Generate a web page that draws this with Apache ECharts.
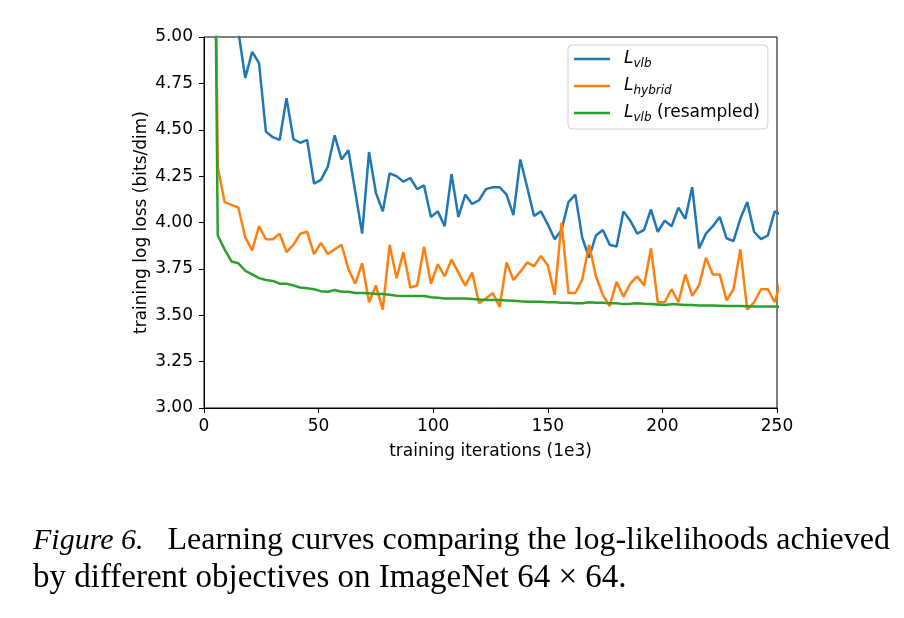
<!DOCTYPE html>
<html>
<head>
<meta charset="utf-8">
<script src="https://cdn.jsdelivr.net/npm/echarts@6/dist/echarts.min.js"></script>
<style>
html,body{margin:0;padding:0;background:#fff;}
#chart{width:904px;height:618px;}
</style>
</head>
<body>
<div id="chart"></div>
<script>
// training iterations (1e3)
const iterations = [3,6,9,12,15,18,21,24,27,30,33,36,39,42,45,48,51,54,57,60,63,66,69,72,75,78,81,84,87,90,93,96,99,102,105,108,111,114,117,120,123,126,129,132,135,138,141,144,147,150,153,156,159,162,165,168,171,174,177,180,183,186,189,192,195,198,201,204,207,210,213,216,219,222,225,228,231,234,237,240,243,246,249,252];

const lossVlb = [8.0,7.0,6.2,5.6,5.03,4.78,4.92,4.86,4.49,4.46,4.445,4.67,4.45,4.43,4.445,4.21,4.23,4.30,4.47,4.34,4.39,4.165,3.94,4.38,4.16,4.06,4.265,4.25,4.22,4.24,4.18,4.20,4.03,4.06,3.98,4.26,4.03,4.15,4.10,4.12,4.18,4.19,4.19,4.15,4.04,4.34,4.19,4.035,4.06,3.99,3.91,3.96,4.11,4.15,3.92,3.81,3.93,3.96,3.88,3.87,4.06,4.01,3.94,3.96,4.07,3.95,4.01,3.98,4.08,4.02,4.19,3.86,3.94,3.98,4.03,3.915,3.90,4.02,4.11,3.95,3.91,3.93,4.06,4.04];

const lossHybrid = [8.0,4.30,4.11,4.095,4.08,3.92,3.85,3.98,3.91,3.91,3.94,3.84,3.88,3.94,3.95,3.83,3.89,3.83,3.855,3.88,3.75,3.67,3.78,3.57,3.66,3.53,3.88,3.70,3.84,3.65,3.66,3.87,3.67,3.775,3.71,3.80,3.73,3.66,3.73,3.565,3.59,3.62,3.545,3.785,3.69,3.735,3.785,3.765,3.82,3.77,3.61,4.00,3.62,3.62,3.69,3.88,3.71,3.61,3.55,3.68,3.60,3.67,3.71,3.66,3.86,3.57,3.57,3.64,3.57,3.72,3.605,3.66,3.81,3.72,3.72,3.58,3.64,3.855,3.53,3.57,3.64,3.64,3.57,3.70];

const lossVlbResampled = [8.0,3.93,3.855,3.79,3.78,3.74,3.72,3.70,3.69,3.685,3.67,3.67,3.66,3.65,3.645,3.64,3.63,3.627,3.636,3.627,3.627,3.62,3.62,3.618,3.614,3.614,3.61,3.605,3.604,3.604,3.604,3.604,3.597,3.595,3.59,3.59,3.59,3.59,3.588,3.585,3.582,3.582,3.582,3.58,3.578,3.575,3.573,3.573,3.573,3.57,3.57,3.568,3.568,3.565,3.565,3.57,3.568,3.568,3.565,3.565,3.56,3.562,3.565,3.562,3.56,3.558,3.555,3.56,3.558,3.555,3.555,3.553,3.552,3.552,3.551,3.55,3.55,3.55,3.549,3.547,3.547,3.547,3.547,3.546];

const xTicks = [0, 50, 100, 150, 200, 250];
const yTicks = [3.00, 3.25, 3.50, 3.75, 4.00, 4.25, 4.50, 4.75, 5.00];

const seriesNames = ['vlb', 'hybrid', 'resampled'];
const legendLabels = {
  vlb: '{L|L}{s|vlb}',
  hybrid: '{L|L}{s|hybrid}',
  resampled: '{L|L}{s|vlb}{t| (resampled)}'
};
const colors = ['#1f77b4', '#ff7f0e', '#2ca02c'];

function pairs(ys) { return iterations.map((x, i) => [x, ys[i]]); }

const chart = echarts.init(document.getElementById('chart'), null, {renderer: 'canvas'});
const tickFont = 'DejaVu Sans';
const fs = 17;
chart.setOption({
  animation: false,
  backgroundColor: '#fff',
  grid: {left: 204, top: 37, right: 127, bottom: 210, show: true, borderColor: '#000', borderWidth: 1, backgroundColor: 'transparent'},
  xAxis: {
    type: 'value', min: xTicks[0], max: xTicks[xTicks.length - 1], interval: 50,
    name: 'training iterations (1e3)', nameLocation: 'middle', nameGap: 35,
    nameTextStyle: {fontFamily: tickFont, fontSize: fs, color: '#000'},
    axisLine: {show: true, lineStyle: {color: '#000', width: 1}},
    axisTick: {show: true, inside: false, length: 5, lineStyle: {color: '#000'}},
    axisLabel: {fontFamily: tickFont, fontSize: fs, color: '#000', margin: 10},
    splitLine: {show: false}
  },
  yAxis: {
    type: 'value', min: yTicks[0], max: yTicks[yTicks.length - 1], interval: 0.25,
    name: 'training log loss (bits/dim)', nameLocation: 'middle', nameGap: 54,
    nameMoveOverlap: false,
    nameTextStyle: {fontFamily: tickFont, fontSize: fs, color: '#000'},
    axisLine: {show: true, lineStyle: {color: '#000', width: 1}},
    axisTick: {show: true, inside: false, length: 5, lineStyle: {color: '#000'}},
    axisLabel: {fontFamily: tickFont, fontSize: fs, color: '#000', margin: 11, formatter: v => v.toFixed(2)},
    splitLine: {show: false}
  },
  legend: {
    orient: 'vertical', left: 568, top: 45,
    padding: [3, 8, 5, 6], itemGap: 5,
    itemWidth: 36, itemHeight: 2.5, icon: 'rect',
    borderColor: '#d0d0d0', borderWidth: 1, borderRadius: 4, backgroundColor: '#fff',
    data: seriesNames,
    formatter: name => legendLabels[name],
    textStyle: {
      fontFamily: tickFont, fontSize: fs, color: '#000',
      rich: {
        L: {fontFamily: tickFont, fontStyle: 'italic', fontSize: 17, color: '#000', padding: [0, 0, 0, 9], lineHeight: 22},
        s: {fontFamily: tickFont, fontStyle: 'italic', fontSize: 12, color: '#000', padding: [10, 0, 0, 0], lineHeight: 22},
        t: {fontFamily: tickFont, fontSize: 17, color: '#000', lineHeight: 22}
      }
    }
  },
  series: [
    {name: seriesNames[0], type: 'line', data: pairs(lossVlb), showSymbol: false, symbol: 'none', clip: true, lineStyle: {color: colors[0], width: 2.5}, itemStyle: {color: colors[0]}, z: 2},
    {name: seriesNames[1], type: 'line', data: pairs(lossHybrid), showSymbol: false, symbol: 'none', clip: true, lineStyle: {color: colors[1], width: 2.5}, itemStyle: {color: colors[1]}, z: 3},
    {name: seriesNames[2], type: 'line', data: pairs(lossVlbResampled), showSymbol: false, symbol: 'none', clip: true, lineStyle: {color: colors[2], width: 2.5}, itemStyle: {color: colors[2]}, z: 4}
  ],
  graphic: [
    {type: 'text', x: 33, y: 541, style: {
      text: '{i|Figure 6.}{g|Learning curves comparing the log-likelihoods achieved}',
      fontFamily: 'Liberation Serif', fontSize: 32, fill: '#000', verticalAlign: 'middle',
      rich: {
        i: {fontFamily: 'Liberation Serif', fontStyle: 'italic', fontSize: 30, fill: '#000'},
        g: {fontFamily: 'Liberation Serif', fontSize: 32, fill: '#000', padding: [0, 0, 0, 24]}
      }
    }},
    {type: 'text', x: 33, y: 578, style: {
      text: 'by different objectives on ImageNet 64 \u00d7 64.',
      fontFamily: 'Liberation Serif', fontSize: 33, fill: '#000', verticalAlign: 'middle'
    }}
  ]
});
</script>
</body>
</html>
